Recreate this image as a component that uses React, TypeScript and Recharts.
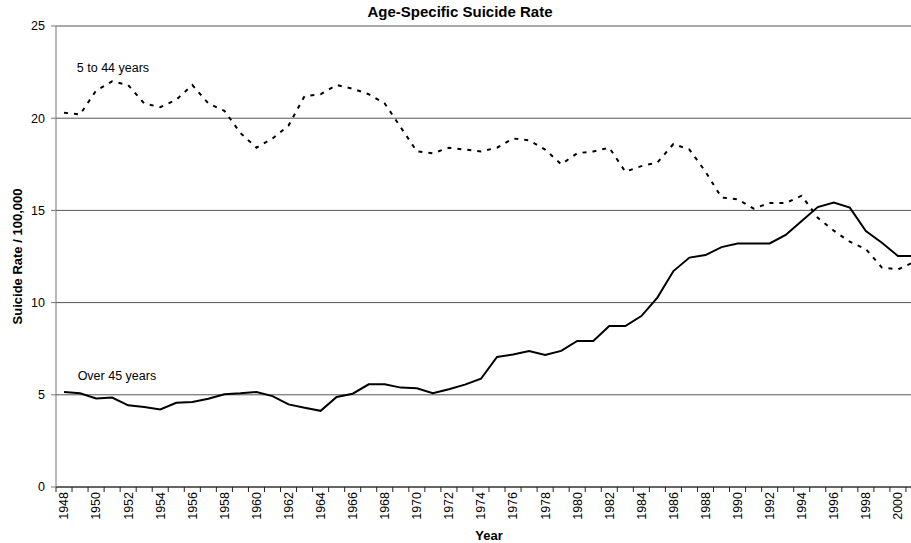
import { CartesianGrid, Line, LineChart, ReferenceDot, XAxis, YAxis } from "recharts";

const years = [
  1948, 1949, 1950, 1951, 1952, 1953, 1954, 1955, 1956, 1957, 1958, 1959, 1960, 1961,
  1962, 1963, 1964, 1965, 1966, 1967, 1968, 1969, 1970, 1971, 1972, 1973, 1974, 1975,
  1976, 1977, 1978, 1979, 1980, 1981, 1982, 1983, 1984, 1985, 1986, 1987, 1988, 1989,
  1990, 1991, 1992, 1993, 1994, 1995, 1996, 1997, 1998, 1999, 2000, 2001,
];

// 5 to 44 years (dashed)
const youngRate = [
  20.3, 20.2, 21.5, 22.0, 21.8, 20.8, 20.6, 21.0, 21.8, 20.8, 20.4, 19.2, 18.4, 18.9,
  19.6, 21.2, 21.3, 21.8, 21.6, 21.3, 20.8, 19.5, 18.2, 18.1, 18.4, 18.3, 18.2, 18.4,
  18.9, 18.8, 18.3, 17.5, 18.1, 18.2, 18.4, 17.1, 17.4, 17.6, 18.6, 18.3, 17.1, 15.7,
  15.6, 15.1, 15.4, 15.4, 15.8, 14.6, 13.9, 13.3, 12.9, 11.9, 11.8, 12.2,
];

// over 45 years (solid)
const olderRate = [
  5.15, 5.08, 4.8, 4.85, 4.43, 4.34, 4.21, 4.57, 4.61, 4.79, 5.03, 5.08, 5.15, 4.93,
  4.48, 4.3, 4.13, 4.88, 5.06, 5.57, 5.57, 5.39, 5.35, 5.08, 5.3, 5.55, 5.87, 7.05,
  7.19, 7.38, 7.16, 7.38, 7.92, 7.92, 8.73, 8.73, 9.27, 10.27, 11.71, 12.44, 12.58, 13.01,
  13.21, 13.21, 13.21, 13.67, 14.43, 15.18, 15.42, 15.15, 13.88, 13.25, 12.53, 12.53,
];

const yTicks = [0, 5, 10, 15, 20, 25];
// tick marks sit between years (category boundaries), labels on even years
const yearBounds = [...years.map((y) => y - 0.5), 2001.5];

const data = years.map((year, i) => ({ year, young: youngRate[i], older: olderRate[i] }));

const FONT = "'Liberation Sans', Arial, sans-serif";
const CHART_W = 940;
const MARGIN_R = 18;
const Y_W = 56;
const HALF_BAND = (CHART_W - MARGIN_R - Y_W) / years.length / 2;

const YearTick = ({ x, y, payload }: any) => {
  const year = payload.value + 0.5;
  if (year % 2 !== 0 || year > 2000) return <g />;
  const tx = x + HALF_BAND;
  return (
    <text
      x={tx}
      y={y}
      transform={`rotate(-90 ${tx} ${y})`}
      textAnchor="end"
      dy="0.35em"
      fontSize={12.5}
      fill="#000"
    >
      {year}
    </text>
  );
};

const YTitle = ({ viewBox }: any) => {
  const x = viewBox.x + 17;
  const y = viewBox.y + viewBox.height / 2;
  return (
    <text
      x={x}
      y={y}
      transform={`rotate(-90 ${x} ${y})`}
      textAnchor="middle"
      dy="0.35em"
      fontSize={13}
      fontWeight="bold"
      fill="#000"
    >
      Suicide Rate / 100,000
    </text>
  );
};

export default function App() {
  return (
    <div
      style={{
        position: "fixed",
        left: 0,
        top: 0,
        width: 911,
        height: 543,
        overflow: "hidden",
        background: "#fff",
        fontFamily: FONT,
      }}
    >
      <div
        style={{
          position: "absolute",
          left: 0,
          top: 3,
          width: 920,
          textAlign: "center",
          fontSize: 15,
          fontWeight: "bold",
          color: "#000",
        }}
      >
        Age-Specific Suicide Rate
      </div>
      <LineChart
        width={CHART_W}
        height={543}
        data={data}
        margin={{ top: 26, right: MARGIN_R, left: 0, bottom: 0 }}
      >
        <CartesianGrid horizontal vertical={false} stroke="#555" strokeWidth={1} />
        <XAxis
          dataKey="year"
          type="number"
          domain={[1947.5, 2001.5]}
          ticks={yearBounds}
          interval={0}
          tick={<YearTick />}
          tickSize={5}
          tickMargin={0}
          height={56}
          stroke="#222"
          label={{
            value: "Year",
            position: "insideBottom",
            offset: 3,
            fontSize: 13,
            fontWeight: "bold",
            fill: "#000",
          }}
        />
        <YAxis
          domain={[0, 25]}
          ticks={yTicks}
          interval={0}
          width={Y_W}
          tickSize={5}
          tickMargin={6}
          stroke="#777"
          tick={{ fontSize: 12.5, fill: "#000" }}
          label={<YTitle />}
        />
        <Line
          type="linear"
          dataKey="young"
          stroke="#000"
          strokeWidth={2}
          strokeDasharray="4 6"
          dot={false}
          isAnimationActive={false}
        />
        <Line
          type="linear"
          dataKey="older"
          stroke="#000"
          strokeWidth={2}
          dot={false}
          isAnimationActive={false}
        />
        <ReferenceDot
          x={1948.8}
          y={22.72}
          r={0}
          fill="none"
          stroke="none"
          label={{ value: "5 to 44 years", position: "right", offset: 0, fontSize: 12.5, fill: "#000" }}
        />
        <ReferenceDot
          x={1948.85}
          y={6.02}
          r={0}
          fill="none"
          stroke="none"
          label={{ value: "Over 45 years", position: "right", offset: 0, fontSize: 12.5, fill: "#000" }}
        />
      </LineChart>
    </div>
  );
}
